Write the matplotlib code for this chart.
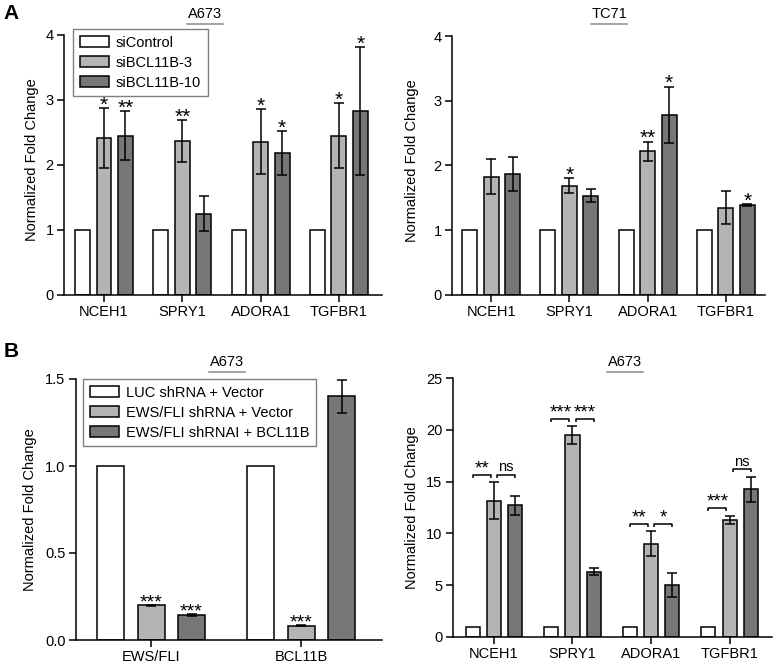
import matplotlib
matplotlib.use("Agg")
import matplotlib.pyplot as plt
from matplotlib.patches import Patch
from matplotlib.lines import Line2D
import numpy as np

plt.rcParams['font.family'] = ['Liberation Sans', 'DejaVu Sans']

# ---------------- data ----------------
genes = ["NCEH1", "SPRY1", "ADORA1", "TGFBR1"]

# Panel A, A673
a673_ctrl = [1, 1, 1, 1]
a673_si3 = [2.41, 2.37, 2.36, 2.45]
a673_si3_err = [0.46, 0.32, 0.50, 0.50]
a673_si10 = [2.45, 1.25, 2.18, 2.83]
a673_si10_err = [0.38, 0.27, 0.34, 0.98]
a673_si3_sig = ["*", "**", "*", "*"]
a673_si10_sig = ["**", "", "*", "*"]

# Panel A, TC71
tc71_ctrl = [1, 1, 1, 1]
tc71_si3 = [1.83, 1.69, 2.22, 1.35]
tc71_si3_err = [0.27, 0.12, 0.15, 0.25]
tc71_si10 = [1.87, 1.53, 2.78, 1.39]
tc71_si10_err = [0.26, 0.10, 0.44, 0.01]
tc71_si3_sig = ["", "*", "**", ""]
tc71_si10_sig = ["", "", "*", "*"]

# Panel B left
b_genes = ["EWS/FLI", "BCL11B"]
b_luc = [1, 1]
b_ews = [0.200, 0.082]
b_ews_err = [0.003, 0.004]
b_resc = [0.144, 1.40]
b_resc_err = [0.006, 0.095]
b_ews_sig = ["***", "***"]
b_resc_sig = ["***", ""]

# Panel B right
br_luc = [1, 1, 1, 1]
br_ews = [13.16, 19.48, 9.02, 11.30]
br_ews_err = [1.77, 0.86, 1.18, 0.42]
br_bcl = [12.70, 6.32, 5.00, 14.25]
br_bcl_err = [0.93, 0.37, 1.17, 1.22]
br_sig_ctrl_vs_ews = ["**", "***", "**", "***"]
br_sig_ews_vs_bcl = ["ns", "***", "*", "ns"]

a_legend = ["siControl", "siBCL11B-3", "siBCL11B-10"]
b_legend = ["LUC shRNA + Vector", "EWS/FLI shRNA + Vector", "EWS/FLI shRNAI + BCL11B"]

# ---------------- style ----------------
W, H = 776, 668
C_WHITE, C_LIGHT, C_DARK = "#ffffff", "#b4b4b4", "#777777"
LW = 1.1
fig = plt.figure(figsize=(W / 100, H / 100), dpi=100)


def px_axes(x0, y0, x1, y1):
    return fig.add_axes([x0 / W, 1 - y1 / H, (x1 - x0) / W, (y1 - y0) / H])


def style_ax(ax, ylim, yticks, yticklabels, xlabels, xlim):
    for s in ["top", "right"]:
        ax.spines[s].set_visible(False)
    for s in ["left", "bottom"]:
        ax.spines[s].set_linewidth(LW)
    ax.set_ylim(*ylim)
    ax.set_xlim(*xlim)
    ax.set_yticks(yticks)
    ax.set_yticklabels(yticklabels, fontsize=10.5)
    ax.set_xticks(range(len(xlabels)))
    ax.set_xticklabels(xlabels, fontsize=10.5)
    ax.tick_params(direction="out", length=5, width=LW, pad=2.5)
    ax.set_ylabel("Normalized Fold Change", fontsize=10.5)


def stars(ax, xs, tops, labels, size=15, dy=-2.0):
    for x, t, lab in zip(xs, tops, labels):
        if lab:
            ax.annotate(lab, (x, t), xytext=(0, dy), textcoords="offset points",
                        ha="center", va="baseline", fontsize=size)


def grouped(ax, series, errs, colors, off, width):
    n = len(series[0])
    xs = np.arange(n)
    positions = []
    for i, (vals, col) in enumerate(zip(series, colors)):
        xp = xs + (i - 1) * off
        ax.bar(xp, vals, width, color=col, edgecolor="black", linewidth=LW, zorder=2)
        if errs[i] is not None:
            ax.errorbar(xp, vals, yerr=errs[i], fmt="none", ecolor="black",
                        elinewidth=LW, capsize=3.5, capthick=LW, zorder=3)
        positions.append(xp)
    return positions


def title(x0, x1, y, text):
    xc = (x0 + x1) / 2
    fig.text(xc / W, 1 - (y - 6) / H, text, ha="center", va="baseline", fontsize=10.5)
    fig.add_artist(Line2D([x0 / W, x1 / W], [1 - y / H, 1 - y / H], color="#8a8a8a", lw=1.1))


def legend(ax, labels, x, y):
    handles = [Patch(facecolor=c, edgecolor="black", linewidth=LW) for c in (C_WHITE, C_LIGHT, C_DARK)]
    leg = ax.legend(handles, labels, loc="upper left", bbox_to_anchor=(x / W, 1 - y / H),
                    bbox_transform=fig.transFigure, borderaxespad=0, fontsize=10.5,
                    fancybox=False, framealpha=1, edgecolor="#808080", borderpad=0.45,
                    handlelength=2.0, handleheight=0.75, handletextpad=0.5, labelspacing=0.42)
    leg.get_frame().set_linewidth(1.0)


OFF, WID = 0.275, 0.19

# ---- Panel A left ----
ax1 = px_axes(64, 35, 382, 295)
p = grouped(ax1, [a673_ctrl, a673_si3, a673_si10], [None, a673_si3_err, a673_si10_err],
            [C_WHITE, C_LIGHT, C_DARK], OFF, WID)
style_ax(ax1, (0, 4), [0, 1, 2, 3, 4], ["0", "1", "2", "3", "4"], genes, (-0.51, 3.55))
stars(ax1, p[1], np.add(a673_si3, a673_si3_err), a673_si3_sig)
stars(ax1, p[2], np.add(a673_si10, a673_si10_err), a673_si10_sig)
legend(ax1, a_legend, 73, 29)
ax1.yaxis.set_label_coords(-0.08, 0.52)
title(187, 223, 24, "A673")

# ---- Panel A right ----
ax2 = px_axes(452, 36, 765, 295)
p = grouped(ax2, [tc71_ctrl, tc71_si3, tc71_si10], [None, tc71_si3_err, tc71_si10_err],
            [C_WHITE, C_LIGHT, C_DARK], OFF, WID)
style_ax(ax2, (0, 4), [0, 1, 2, 3, 4], ["0", "1", "2", "3", "4"], genes, (-0.5, 3.5))
stars(ax2, p[1], np.add(tc71_si3, tc71_si3_err), tc71_si3_sig)
stars(ax2, p[2], np.add(tc71_si10, tc71_si10_err), tc71_si10_sig)
ax2.yaxis.set_label_coords(-0.105, 0.52)
title(591, 627, 24, "TC71")

# ---- Panel B left ----
ax3 = px_axes(76, 379, 382, 640)
p = grouped(ax3, [b_luc, b_ews, b_resc], [None, b_ews_err, b_resc_err],
            [C_WHITE, C_LIGHT, C_DARK], 0.27, 0.18)
style_ax(ax3, (0, 1.5), [0, 0.5, 1.0, 1.5], ["0.0", "0.5", "1.0", "1.5"], b_genes, (-0.5, 1.54))
stars(ax3, p[1], np.add(b_ews, b_ews_err), b_ews_sig, size=14)
stars(ax3, p[2], np.add(b_resc, b_resc_err), b_resc_sig, size=14)
legend(ax3, b_legend, 83, 379)
ax3.yaxis.set_label_coords(-0.127, 0.5)
title(209, 245, 372, "A673")

# ---- Panel B right ----
ax4 = px_axes(453, 378, 772, 637)
p = grouped(ax4, [br_luc, br_ews, br_bcl], [None, br_ews_err, br_bcl_err],
            [C_WHITE, C_LIGHT, C_DARK], 0.27, 0.18)
style_ax(ax4, (0, 25), [0, 5, 10, 15, 20, 25], ["0", "5", "10", "15", "20", "25"], genes, (-0.52, 3.54))
ax4.yaxis.set_label_coords(-0.107, 0.5)
title(607, 643, 372, "A673")

top_ews = np.add(br_ews, br_ews_err)
top_bcl = np.add(br_bcl, br_bcl_err)
for i in range(len(genes)):
    pairs = [(p[0][i], p[1][i] - 0.04, top_ews[i], br_sig_ctrl_vs_ews[i]),
             (p[1][i] + 0.04, p[2][i], max(top_ews[i], top_bcl[i]), br_sig_ews_vs_bcl[i])]
    for xa, xb, top, lab in pairs:
        yb = top + 0.75
        leg = 0.32
        ax4.plot([xa, xa, xb, xb], [yb - leg, yb, yb, yb - leg], color="black", lw=LW,
                 solid_capstyle="butt", clip_on=False)
        if lab == "ns":
            ax4.annotate(lab, ((xa + xb) / 2, yb), xytext=(0, 2.2), textcoords="offset points",
                         ha="center", va="baseline", fontsize=10.5)
        else:
            ax4.annotate(lab, ((xa + xb) / 2, yb), xytext=(0, 0.8), textcoords="offset points",
                         ha="center", va="baseline", fontsize=13.5)

# panel letters
fig.text(3 / W, 1 - 4 / H, "A", fontsize=15, fontweight="bold", ha="left", va="top")
fig.text(4 / W, 1 - 342 / H, "B", fontsize=15, fontweight="bold", ha="left", va="top")

fig.savefig("out.png", dpi=100)
